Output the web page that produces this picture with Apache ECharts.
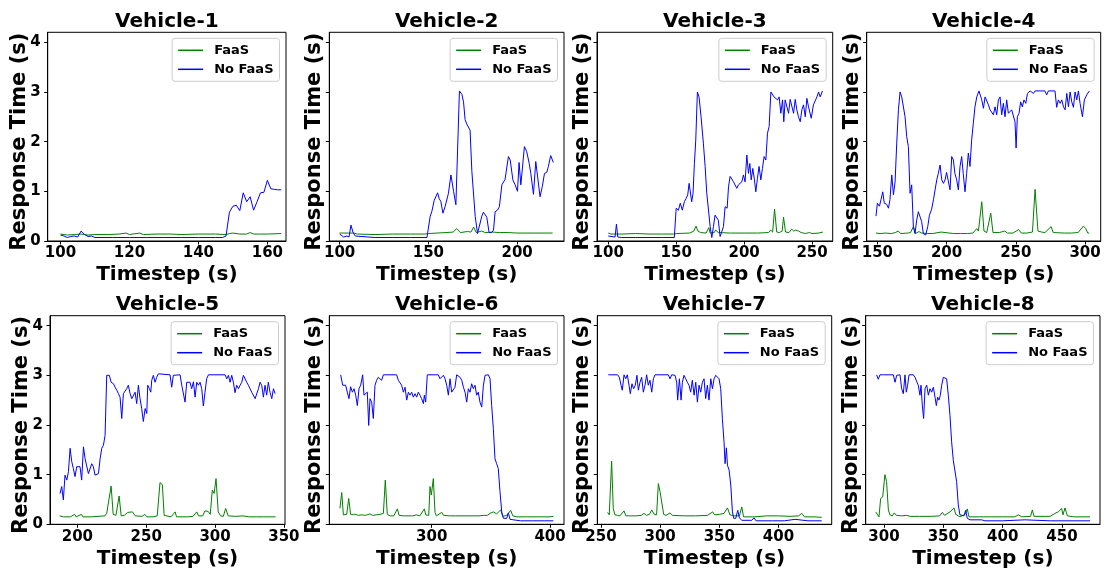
<!DOCTYPE html>
<html><head><meta charset="utf-8">
<script src="https://cdn.jsdelivr.net/npm/echarts@6/dist/echarts.min.js"></script>
<style>html,body{margin:0;padding:0;background:#fff}#c{width:1116px;height:570px}</style>
</head><body><div id="c"></div>
<script>
// ---------------- DATA ----------------
const titles = ['Vehicle-1','Vehicle-2','Vehicle-3','Vehicle-4','Vehicle-5','Vehicle-6','Vehicle-7','Vehicle-8'];
const seriesNames = ['FaaS','No FaaS'];
const yTicks = [0,1,2,3,4];
const yRange = [0,4.2];

const v1Ticks = [100,120,140,160];
const v1Range = [96.3,165.4];
const v1Faas = [[100,0.14],[102,0.12],[104,0.13],[106,0.14],[108,0.12],[110,0.13],[114,0.13],[117,0.14],[119,0.16],[120,0.13],[123,0.16],[124,0.13],[128,0.14],[132,0.14],[135,0.13],[140,0.14],[145,0.14],[148,0.13],[149,0.15],[150,0.16],[152,0.14],[154,0.14],[155,0.17],[156,0.14],[158,0.14],[160,0.14],[164,0.15]];
const v1NoFaas = [[100,0.12],[101,0.1],[102,0.07],[103,0.09],[104,0.1],[105,0.08],[106,0.2],[107,0.13],[108,0.09],[109,0.1],[110,0.07],[115,0.07],[120,0.07],[125,0.07],[130,0.07],[135,0.07],[140,0.07],[145,0.07],[147,0.07],[148,0.1],[149,0.58],[150,0.7],[151,0.72],[152,0.61],[153,0.97],[154,0.79],[155,0.89],[156,0.62],[157,0.79],[158,0.97],[159,0.98],[160,1.22],[161,1.05],[162,1.04],[163,1.03],[164,1.03]];

const v2Ticks = [100,150,200];
const v2Range = [94.2,226.4];
const v2Faas = [[100,0.16],[105,0.16],[108,0.16],[110,0.14],[120,0.13],[130,0.14],[140,0.14],[148,0.14],[150,0.15],[160,0.17],[164,0.18],[166,0.25],[168,0.17],[172,0.19],[174,0.18],[175.5,0.28],[177,0.17],[180,0.2],[182,0.17],[186,0.18],[190,0.17],[195,0.17],[200,0.16],[210,0.16],[220,0.16]];
const v2NoFaas = [[100,0.14],[102.3,0.08],[104.1,0.1],[105.3,0.08],[106.4,0.32],[107.5,0.18],[108.8,0.1],[109.8,0.07],[120,0.07],[130,0.07],[140,0.07],[149.2,0.07],[151,0.49],[152,0.6],[153.3,0.82],[154.2,0.8],[155.2,0.97],[156.1,0.85],[157,0.8],[158.2,0.56],[159.5,0.7],[161.3,0.96],[162.7,1.33],[164.2,1.0],[165.5,0.73],[167.5,3.02],[168.9,2.95],[169.8,2.8],[170.7,2.44],[171.7,2.35],[173.5,2.23],[174.5,1.4],[175.4,1.38],[176.4,0.49],[177.7,0.15],[178.8,0.13],[180.1,0.5],[181,0.58],[182.9,0.48],[184.2,0.17],[185.7,0.17],[186.7,0.22],[187.6,0.59],[188.9,0.62],[190,0.69],[191.4,1.13],[193.2,1.24],[195.1,1.7],[196.1,1.63],[197.6,1.23],[198.9,1.13],[200.2,1.0],[201.1,1.58],[202.1,1.13],[203,1.11],[204.1,1.9],[205.4,1.8],[206.8,1.56],[207.7,1.36],[209.2,0.94],[210.5,1.6],[211.6,1.58],[212.9,0.89],[214.2,1.1],[215.4,1.36],[216.7,1.38],[217.6,1.5],[218.9,1.72],[220.4,1.58]];

const v3Ticks = [100,150,200,250];
const v3Range = [91.7,265.2];
const v3Faas = [[100,0.16],[102,0.14],[110,0.14],[120,0.15],[121,0.13],[130,0.14],[140,0.14],[148,0.14],[150,0.15],[160,0.16],[163,0.2],[164.6,0.3],[166,0.2],[168,0.17],[172,0.16],[174,0.27],[175,0.16],[178,0.17],[179,0.22],[181,0.17],[190,0.16],[200,0.16],[210,0.16],[218,0.17],[219.5,0.22],[221,0.18],[222.4,0.64],[224,0.18],[226,0.17],[228,0.2],[229,0.48],[230.5,0.18],[233,0.17],[235,0.24],[236.5,0.2],[238,0.22],[240,0.2],[242,0.17],[245,0.15],[248,0.17],[250,0.15],[255,0.16],[258,0.18]];
const v3NoFaas = [[100,0.1],[101,0.08],[105,0.08],[106,0.34],[107,0.08],[110,0.07],[120,0.07],[130,0.07],[140,0.07],[148.6,0.07],[150,0.66],[151.6,0.62],[153,0.76],[154.5,0.62],[156,0.79],[157.2,0.85],[158.5,0.93],[159.5,1.16],[160.4,1.18],[161.4,0.79],[162.4,0.96],[163.4,1.56],[164.4,2.03],[165.6,3.0],[166.8,2.9],[168.3,2.5],[170,1.97],[171.3,1.5],[172.5,0.96],[173.7,0.98],[175,0.29],[176.2,0.07],[177.4,0.29],[178.6,0.52],[179.9,0.52],[181,0.42],[182.3,0.09],[183.5,0.07],[184.8,0.29],[186,0.69],[187.5,0.66],[188.5,1.09],[189.7,1.3],[191,1.26],[192,1.2],[193.4,1.23],[194.6,1.06],[195.8,1.13],[197,1.09],[198.3,1.19],[199.5,1.33],[200.7,1.19],[202,1.73],[203.2,1.36],[204.2,1.56],[205.2,1.23],[206.4,1.46],[207.6,1.23],[208.6,0.99],[209.8,1.26],[211,1.5],[212.3,1.23],[213.5,1.46],[214.7,1.7],[216,1.63],[217.2,2.17],[218.4,2.3],[219.7,3.0],[220.9,3.0],[222,2.9],[223.3,2.94],[224.6,2.84],[225.8,2.9],[227,2.57],[228.3,2.84],[229.2,2.4],[230.2,2.84],[231.4,2.87],[232.7,2.57],[233.9,2.85],[235.1,2.87],[236.4,2.57],[237.6,2.85],[238.8,2.64],[240,2.5],[241.3,2.4],[242.5,2.64],[243.7,2.74],[245,2.5],[246.2,2.87],[247.4,2.7],[249.4,2.47],[251,2.74],[252.3,2.74],[253.6,2.9],[254.8,3.0],[256,2.9],[257.7,3.02]];

const v4Ticks = [150,200,250,300];
const v4Range = [142.3,311.3];
const v4Faas = [[149,0.16],[152,0.15],[156,0.16],[160,0.15],[163,0.17],[165,0.2],[167,0.15],[172,0.16],[174,0.17],[176,0.29],[177.5,0.15],[180,0.19],[182,0.16],[186,0.15],[190,0.15],[196,0.18],[197,0.15],[205,0.15],[210,0.15],[215,0.15],[219,0.16],[221.8,0.25],[223,0.2],[225.4,0.79],[227,0.2],[229,0.17],[231.9,0.56],[233.5,0.17],[238,0.17],[242,0.2],[244,0.16],[248,0.16],[252,0.23],[254,0.16],[258,0.16],[262,0.18],[263.9,1.04],[266,0.2],[268.7,0.18],[271,0.17],[275.5,0.29],[277,0.17],[285,0.16],[290,0.16],[295,0.17],[298.8,0.3],[300.5,0.25],[302,0.16],[303,0.16]];
const v4NoFaas = [[149,0.5],[150,0.76],[151.5,0.7],[152.6,0.83],[153.9,0.99],[155,0.76],[156.7,0.74],[158,0.66],[159.1,0.83],[160.4,1.33],[161.6,0.93],[162.8,1.19],[164,1.97],[165.2,2.64],[166.4,3.0],[167.6,2.9],[168.8,2.87],[170,2.5],[171.2,2.1],[172.4,1.9],[173.6,0.96],[174.8,1.13],[176,0.29],[177.2,0.15],[178.4,0.42],[179.6,0.59],[180.8,0.59],[182,0.39],[183.2,0.15],[184.9,0.12],[186.4,0.29],[187.6,0.52],[189.2,0.64],[190.5,0.83],[191.7,1.03],[192.9,1.23],[194,1.36],[195.3,1.53],[196.5,1.23],[197.7,1.16],[198.9,1.23],[200,1.38],[201.3,1.38],[202.5,1.03],[203.7,1.7],[204.9,1.63],[206,1.36],[207.3,1.23],[208.5,1.03],[209.7,1.5],[210.9,1.7],[212,1.36],[213.3,0.99],[214.5,1.36],[215.7,1.77],[216.9,1.5],[218.1,2.03],[219.3,2.37],[220.5,2.7],[221.8,2.9],[223.4,3.02],[225.4,2.84],[226.6,2.67],[227.8,2.9],[229,2.87],[230.2,2.74],[231.4,2.64],[232.6,2.67],[233.8,2.54],[235,2.7],[236.2,2.54],[237.4,2.84],[238.6,2.9],[239.8,2.54],[241,2.77],[242.2,2.5],[243.4,2.84],[244.6,2.57],[245.8,2.57],[247,2.64],[248.2,2.64],[249.4,2.4],[250.2,1.87],[251.1,2.5],[252.3,2.57],[253.5,2.8],[254.7,2.7],[255.9,2.84],[257.2,2.77],[258.4,2.97],[260.3,3.02],[262.7,2.97],[263.9,3.02],[271,3.02],[272.3,2.94],[273.5,3.02],[278.3,3.02],[279.5,2.69],[280.7,2.84],[282,2.77],[283.2,2.84],[284.4,2.7],[285.6,2.64],[286.8,2.97],[288,2.7],[289.2,3.0],[290.4,2.8],[291.6,2.69],[292.8,3.0],[294,2.84],[295.2,3.02],[296.4,2.77],[298.1,2.5],[299.5,2.84],[301.2,2.94],[303.1,3.02]];

const v5Ticks = [200,250,300,350];
const v5Range = [180.1,350.8];
const v5Faas = [[187,0.17],[190,0.15],[195,0.15],[198,0.2],[199,0.15],[203,0.2],[204,0.15],[210,0.15],[215,0.16],[220,0.17],[221.3,0.22],[222.5,0.2],[224.5,0.77],[226,0.2],[228,0.18],[230.3,0.57],[231.8,0.17],[234,0.18],[236.6,0.24],[238,0.2],[240,0.25],[242,0.17],[247,0.16],[249,0.2],[250.5,0.15],[255,0.15],[258,0.17],[260,0.84],[261.7,0.8],[263,0.18],[268,0.15],[271,0.25],[272,0.15],[280,0.15],[284,0.16],[286.7,0.25],[288,0.17],[291,0.17],[292.7,0.27],[295,0.26],[296.5,0.2],[298,0.69],[299.3,0.62],[300.7,0.92],[302.3,0.25],[304,0.17],[306,0.16],[307.7,0.32],[309.5,0.17],[315,0.16],[320,0.17],[325,0.15],[330,0.15],[335,0.15],[340,0.15],[344,0.15]];
const v5NoFaas = [[187.4,0.62],[188.6,0.76],[189.8,0.49],[191,0.99],[192.3,0.89],[193.5,1.06],[194.7,1.53],[195.9,1.26],[197.1,1.12],[198.3,0.96],[199.5,1.16],[200.7,1.12],[201.9,1.16],[203.1,0.89],[204.4,1.56],[205.6,1.32],[206.8,1.29],[208,1.02],[209.2,1.06],[210.4,1.22],[211.6,1.16],[212.8,0.99],[214,1.02],[215.3,1.02],[216.5,1.32],[217.7,1.53],[218.9,1.59],[220.1,1.79],[221.3,3.0],[223.2,3.0],[224.5,2.86],[226.2,2.83],[227.4,2.76],[228.6,2.7],[229.8,2.63],[231,2.56],[232.2,2.13],[233.4,2.63],[234.6,2.66],[235.8,2.73],[237,2.8],[238.3,2.63],[239.5,2.53],[240.7,2.53],[241.9,2.66],[243.1,2.43],[244.3,2.8],[245.5,2.53],[246.7,2.33],[247.9,2.07],[249.2,2.33],[250.4,2.23],[251.1,2.8],[252.3,2.73],[253.3,2.66],[254,2.9],[255.2,3.0],[256.4,2.86],[257.6,2.96],[258.8,3.03],[267.3,3.01],[268.5,2.76],[269.7,3.0],[274.6,3.01],[275.8,2.8],[277,2.8],[278.2,2.46],[279.4,2.86],[280.6,2.83],[281.8,2.86],[283,2.73],[284.3,2.87],[285.5,2.56],[286.7,2.86],[287.9,2.8],[289.1,2.86],[290.3,2.73],[291.5,2.38],[292.7,2.66],[293.9,2.93],[295.2,3.01],[307.3,3.01],[308.5,2.93],[309.7,3.0],[310.9,2.86],[312.1,3.0],[313.3,2.86],[314.5,2.65],[315.7,2.8],[317,2.73],[318.2,2.8],[319.4,2.86],[320.6,3.0],[321.8,2.96],[323,2.86],[324.2,2.8],[325.4,2.8],[326.6,2.66],[327.8,2.63],[329.1,2.53],[330.3,2.56],[331.5,2.73],[332.7,2.86],[333.9,2.8],[335.1,2.56],[336.3,2.8],[337.5,2.6],[338.7,2.86],[339.9,2.66],[341.2,2.53],[342.4,2.73],[343.6,2.63]];

const v6Ticks = [300,400];
const v6Range = [213.5,411.8];
const v6Faas = [[222.5,0.32],[224,0.64],[225.4,0.19],[227,0.18],[228.2,0.2],[229.9,0.52],[231.5,0.2],[233.8,0.2],[235.8,0.2],[238,0.18],[241,0.19],[244,0.18],[247.9,0.21],[250,0.18],[253,0.19],[256.3,0.2],[259.2,0.22],[260.8,0.89],[262.5,0.2],[265,0.17],[268,0.17],[271,0.31],[272.5,0.18],[276,0.17],[280,0.17],[284,0.17],[287,0.19],[290,0.17],[293.8,0.31],[295,0.19],[297.5,0.18],[298.6,0.76],[299.7,0.59],[301.4,0.92],[302.8,0.24],[304,0.17],[308.5,0.24],[310,0.18],[315,0.17],[320,0.17],[330,0.17],[340,0.17],[344,0.18],[345.1,0.22],[347,0.18],[349.3,0.22],[350.5,0.19],[352.1,0.25],[354.9,0.21],[356.5,0.22],[358.3,0.29],[360,0.16],[363.4,0.18],[365,0.17],[366.8,0.28],[368.5,0.17],[372,0.15],[380,0.15],[390,0.15],[400,0.15],[402.8,0.16]];
const v6NoFaas = [[223.1,3.01],[224.8,2.8],[225.9,2.77],[227.3,2.8],[228.7,2.66],[230.1,2.53],[231.5,2.77],[233,2.66],[234.4,2.73],[235.8,2.6],[237.2,2.39],[238.6,2.73],[240,2.8],[241.7,3.01],[242.8,2.6],[243.9,2.63],[245.6,2.66],[246.8,1.99],[247.9,2.53],[249.3,2.46],[250.7,2.13],[252.1,2.8],[253.5,2.9],[254.9,2.96],[256.3,3.0],[257.7,2.9],[259.2,3.01],[270.4,3.01],[271.8,2.9],[273.2,2.86],[274.6,2.8],[276.1,2.66],[277.5,2.76],[278.9,2.5],[280.3,2.66],[281.7,2.6],[283.1,2.66],[284.5,2.56],[285.9,2.63],[287.3,2.56],[288.7,2.66],[290.1,2.6],[291.5,2.53],[293,2.43],[293.8,2.6],[294.9,2.46],[296.3,3.01],[305.6,3.01],[307,2.93],[308.5,2.96],[309.9,3.0],[311.3,2.93],[312.7,2.8],[314.1,2.6],[315.5,2.93],[316.9,2.66],[318.3,2.66],[319.7,2.76],[321.1,3.01],[324,2.96],[325.4,2.9],[326.8,2.76],[328.2,2.66],[329.6,2.46],[331,2.73],[332.4,2.66],[333.8,2.83],[335.2,2.73],[336.6,2.8],[338,2.6],[339.4,2.66],[340.8,2.46],[342.3,2.36],[343.7,2.8],[345.1,3.0],[347.9,3.01],[349.3,2.93],[350.7,2.39],[352.1,1.93],[353.5,1.32],[354.9,1.22],[356.3,1.12],[357.7,0.66],[359.2,0.25],[360.6,0.12],[362,0.09],[363.4,0.12],[364.8,0.23],[366.2,0.1],[367.6,0.07],[375,0.07],[385,0.07],[395,0.07],[402.8,0.07]];

const v7Ticks = [250,300,350,400];
const v7Range = [246.9,445];
const v7Faas = [[255.6,0.24],[257,0.19],[259,1.27],[260.4,0.32],[261.8,0.19],[264,0.18],[266,0.17],[269.5,0.27],[271,0.17],[275,0.17],[280,0.17],[284,0.18],[286.4,0.22],[288.5,0.18],[291,0.2],[292.9,0.29],[295,0.2],[297,0.19],[298.5,0.82],[299.9,0.66],[301,0.66],[303,0.2],[305,0.18],[308.4,0.23],[310.5,0.18],[320,0.17],[330,0.17],[340,0.18],[344.4,0.25],[346,0.19],[350,0.2],[354,0.22],[356.9,0.33],[359,0.19],[363,0.17],[367,0.17],[369,0.35],[370.5,0.15],[380,0.15],[390,0.17],[400,0.17],[410,0.16],[417,0.17],[419.7,0.22],[422,0.15],[430,0.15],[436.6,0.14]];
const v7NoFaas = [[256.2,3.01],[264.1,3.01],[265.5,2.96],[267,2.8],[268,2.7],[269.5,3.01],[270.9,2.93],[272.3,3.01],[273.7,2.8],[274.8,2.63],[276.2,2.83],[277.6,2.73],[279,2.8],[280.4,3.0],[281.6,2.7],[283,2.86],[284.4,2.96],[285.8,2.66],[287.2,2.8],[288.6,3.01],[290,2.8],[291.4,2.9],[292.9,2.66],[294.3,2.93],[295.7,3.01],[306.9,3.01],[308.4,2.93],[309.8,3.01],[312.6,3.0],[314,2.86],[314.8,2.5],[316.3,2.93],[317.7,2.5],[318.8,2.86],[320.2,3.0],[321.6,2.93],[323,2.86],[324.4,2.8],[325.8,2.66],[327.2,2.9],[328.7,2.6],[330.1,2.86],[331.5,2.46],[332.9,2.8],[334.3,2.66],[335.7,2.86],[337.1,2.93],[338.5,2.53],[339.9,2.8],[341.3,2.5],[342.8,2.93],[344.2,2.73],[345.6,2.93],[347,3.0],[348.4,3.01],[349.8,2.93],[351.2,2.73],[352.6,2.13],[354,1.66],[354.9,1.22],[356,1.54],[356.9,1.19],[358.3,1.09],[359.7,0.79],[361.1,0.25],[362.2,0.12],[363.9,0.12],[365.6,0.28],[367,0.13],[369,0.08],[377.4,0.08],[379.4,0.13],[381.1,0.07],[395,0.07],[405,0.07],[414,0.1],[415.5,0.07],[425,0.07],[436.6,0.07]];

const v8Ticks = [300,350,400,450];
const v8Range = [284.6,482];
const v8Faas = [[293,0.25],[294.4,0.29],[295.8,0.15],[297.2,0.52],[298.9,0.55],[300.8,1.0],[302.2,0.86],[303.7,0.29],[305,0.19],[307,0.17],[308.7,0.23],[310.5,0.18],[314.9,0.17],[319.1,0.18],[322,0.16],[330,0.16],[340,0.16],[347,0.17],[349.2,0.24],[351,0.18],[355.6,0.25],[357,0.23],[359,0.33],[360.4,0.2],[364,0.15],[368.3,0.2],[370.2,0.31],[371.6,0.15],[380,0.15],[390,0.15],[400,0.15],[410,0.15],[413.2,0.19],[416,0.15],[423.5,0.16],[425,0.29],[426.4,0.16],[435,0.16],[440,0.16],[444.1,0.22],[446.9,0.25],[449.7,0.32],[450.8,0.19],[452.5,0.33],[454.5,0.17],[460,0.15],[473.6,0.15]];
const v8NoFaas = [[293.8,3.01],[295.2,2.92],[296.6,3.01],[298,2.98],[299.4,3.01],[307.9,3.01],[309.3,2.86],[310.7,3.0],[312.1,2.96],[313.5,3.01],[314.9,2.73],[316.3,2.63],[317.7,3.01],[318.8,2.66],[319.9,2.8],[321.1,3.01],[324.7,3.01],[326.1,2.96],[327.5,3.0],[328.9,2.8],[330.3,2.6],[331.2,2.8],[332.3,2.4],[333.4,2.13],[334.6,2.73],[336,2.8],[337.4,2.6],[338.8,2.73],[340.2,2.66],[341.6,2.76],[343,2.56],[344.1,2.39],[345.2,2.56],[346.3,2.5],[347.5,2.6],[348.6,2.8],[350,2.96],[351.4,3.0],[352.8,2.93],[354.2,2.6],[355.6,2.19],[357,1.66],[358.4,1.29],[359.8,1.26],[361.2,0.86],[362.6,0.39],[364,0.19],[365.4,0.15],[367.4,0.17],[368.8,0.28],[370.2,0.12],[372.5,0.09],[382.3,0.09],[383.7,0.1],[385.1,0.07],[400,0.07],[418.8,0.09],[420.2,0.07],[440,0.07],[473.6,0.07]];

// ---------------- LAYOUT / STYLE ----------------
const faasSets = [v1Faas,v2Faas,v3Faas,v4Faas,v5Faas,v6Faas,v7Faas,v8Faas];
const noFaasSets = [v1NoFaas,v2NoFaas,v3NoFaas,v4NoFaas,v5NoFaas,v6NoFaas,v7NoFaas,v8NoFaas];
const tickSets = [v1Ticks,v2Ticks,v3Ticks,v4Ticks,v5Ticks,v6Ticks,v7Ticks,v8Ticks];
const rangeSets = [v1Range,v2Range,v3Range,v4Range,v5Range,v6Range,v7Range,v8Range];
// plot boxes [left, top, right, bottom] in px
const boxes = [[47.7,32.3,286,241],[329.3,32.3,564,241],[597,32.3,832.7,241],[866.7,32.3,1100.7,241],
               [50,315.7,285,524.3],[329.3,315.7,564,524.3],[597.3,315.7,831.7,524.3],[865.7,315.7,1100,524.3]];
const W = 1116;
const FONT = 'DejaVu Sans';
const GREEN = '#008000', BLUE = '#0000ff';

const option = {animation:false, textStyle:{fontFamily:FONT}, title:[], grid:[], xAxis:[], yAxis:[], legend:[], series:[]};

titles.forEach((t,i)=>{
  const [L,T,R,B] = boxes[i];
  const firstCol = (i % 4) === 0;
  option.grid.push({left:L, top:T, width:R-L, height:B-T, show:true, borderColor:'#000', borderWidth:1,
    backgroundColor:'transparent', containLabel:false, outerBoundsMode:'none'});
  option.title.push({text:t, left:(L+R)/2, top:T-20.5, textAlign:'center', padding:0,
    textStyle:{fontSize:20, fontWeight:'bold', color:'#000', fontFamily:FONT, lineHeight:20}});
  option.xAxis.push({gridIndex:i, type:'value', min:rangeSets[i][0], max:rangeSets[i][1],
    splitLine:{show:false},
    axisLine:{show:true, onZero:false, lineStyle:{color:'#000', width:1}},
    axisTick:{show:true, length:3.5, lineStyle:{color:'#000', width:1}, customValues:tickSets[i]},
    axisLabel:{show:true, customValues:tickSets[i], margin:5, fontSize:15, fontWeight:'bold', color:'#000', fontFamily:FONT},
    name:'Timestep (s)', nameLocation:'middle', nameGap:24, nameMoveOverlap:false,
    nameTextStyle:{fontSize:20, fontWeight:'bold', color:'#000', fontFamily:FONT}});
  option.yAxis.push({gridIndex:i, type:'value', min:yRange[0], max:yRange[1],
    splitLine:{show:false},
    axisLine:{show:true, onZero:false, lineStyle:{color:'#000', width:1}},
    axisTick:{show:true, length:3.5, lineStyle:{color:'#000', width:1}, customValues:yTicks},
    axisLabel:{show:firstCol, customValues:yTicks, margin:7, fontSize:15, fontWeight:'bold', color:'#000', fontFamily:FONT},
    name:'Response Time (s)', nameLocation:'middle', nameRotate:90, nameGap: firstCol ? 18 : 4, nameMoveOverlap:false,
    nameTextStyle:{fontSize:21, fontWeight:'bold', color:'#000', fontFamily:FONT, padding:[0,10,0,0]}});
  option.legend.push({data:seriesNames, orient:'vertical', right: W - (R - 6.5), top: T + 6,
    backgroundColor:'rgba(255,255,255,0.8)', borderColor:'#cccccc', borderWidth:1, borderRadius:3,
    padding:[5,6,5,6], itemWidth:25, itemHeight:1.5, itemGap:5, icon:'rect', selectedMode:false,
    textStyle:{fontSize:13, fontWeight:'bold', color:'#000', fontFamily:FONT, lineHeight:14, padding:[0,0,0,6]}});
  option.series.push({type:'line', name:seriesNames[0], xAxisIndex:i, yAxisIndex:i, data:faasSets[i],
    showSymbol:false, symbol:'none', lineStyle:{color:GREEN, width:1}, itemStyle:{color:GREEN}, z:2, silent:true});
  option.series.push({type:'line', name:seriesNames[1], xAxisIndex:i, yAxisIndex:i, data:noFaasSets[i],
    showSymbol:false, symbol:'none', lineStyle:{color:BLUE, width:1}, itemStyle:{color:BLUE}, z:3, silent:true});
});

const chart = echarts.init(document.getElementById('c'), null, {renderer:'canvas'});
chart.setOption(option);
</script>
</body></html>
